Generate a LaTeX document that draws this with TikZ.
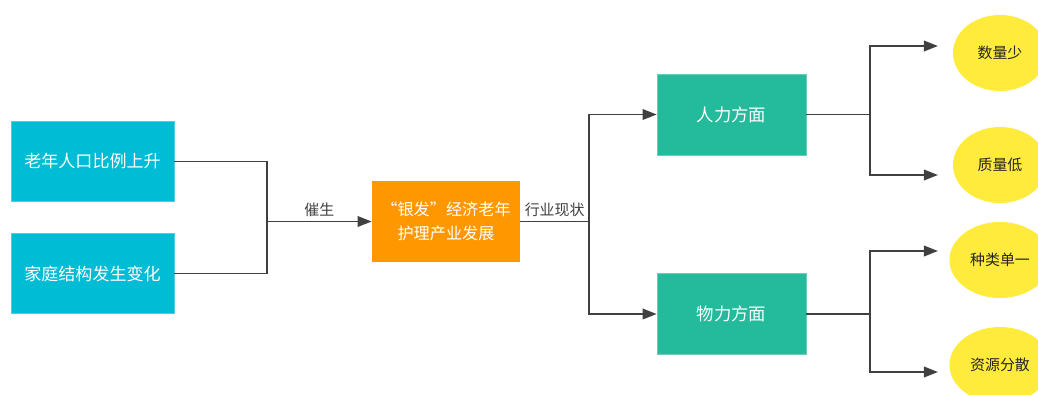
\documentclass[tikz,border=0pt]{standalone}
\usepackage{fontspec}
\setmainfont{Noto Sans CJK SC}
\usepackage{tikz}
\usetikzlibrary{calc,positioning,shapes,arrows.meta}
\definecolor{causebox}{RGB}{0,188,212}
\definecolor{silverbox}{RGB}{255,152,0}
\definecolor{aspectbox}{RGB}{35,187,155}
\definecolor{leafbox}{RGB}{255,235,59}
\definecolor{linegray}{RGB}{64,64,64}
\tikzstyle{cause}     = [rectangle, minimum width=3.26cm, minimum height=1.61cm, text=white, draw=causebox!70!white, fill=causebox, font=\fontsize{9.7}{12}\selectfont]
\tikzstyle{arrow}     = [line width=1.1pt, draw=linegray, -{Triangle[length=8pt,width=6pt]}]
\tikzstyle{wire}      = [line width=1.1pt, draw=linegray]

\begin{document}
\begin{tikzpicture}[
			silver/.style={rectangle, minimum width=2.96cm, minimum height=1.62cm, text=white, fill=silverbox, align=center, font=\fontsize{9.2}{14}\selectfont},
			aspect/.style={rectangle, minimum width=2.98cm, minimum height=1.62cm, text=white, draw=aspectbox!70!white, fill=aspectbox, font=\fontsize{9.9}{12}\selectfont},
			leaf/.style={ellipse, minimum width=1.88cm, minimum height=1.52cm, fill=leafbox, text=black!85, font=\fontsize{8.5}{10}\selectfont},
			tag/.style={text=black!75, font=\fontsize{8.5}{10}\selectfont, inner sep=2pt},
		]

		\useasboundingbox (0,0) rectangle (20.76,-7.88);

		% causes
		\node[cause] (old) at (1.85,-3.23) {老年人口比例上升};
		\node[cause] (family) at (1.85,-5.47) {家庭结构发生变化};

		\node[silver] (silver) at (8.92,-4.43) {“银发”经济老年\\护理产业发展};

		\node[aspect] (human) at (14.63,-2.29) {人力方面};
		\node[aspect] (material) at (14.63,-6.28) {物力方面};

		% results
		\node[leaf] (few) at (20,-1.06) {数量少};
		\node[leaf] (poor) at (20,-3.3) {质量低};
		\node[leaf] (single) at (20,-5.2) {种类单一};
		\node[leaf] (scatter) at (20,-7.3) {资源分散};

		\coordinate (j1) at (5.34,-4.43);
		\coordinate (j2) at (11.78,-4.43);
		\coordinate (j3) at (17.4,-2.29);
		\coordinate (j4) at (17.4,-6.28);
		\coordinate (in1) at (18.76,-0.92);
		\coordinate (in2) at (18.76,-3.5);
		\coordinate (in3) at (18.76,-5.02);
		\coordinate (in4) at (18.76,-7.44);

		\draw[wire] (old.east) -| (j1);
		\draw[wire] (family.east) -| (j1);
		\draw[arrow] (j1) -- node[tag, above] {催生} (silver.west);

		\draw[wire] (silver.east) -- node[tag, above] {行业现状} (j2);
		\draw[arrow] (j2) |- (human.west);
		\draw[arrow] (j2) |- (material.west);

		\draw[wire] (human.east) -- (j3);
		\draw[arrow] (j3) |- (in1);
		\draw[arrow] (j3) |- (in2);
		\draw[wire] (material.east) -- (j4);
		\draw[arrow] (j4) |- (in3);
		\draw[arrow] (j4) |- (in4);
	\end{tikzpicture}
\end{document}
